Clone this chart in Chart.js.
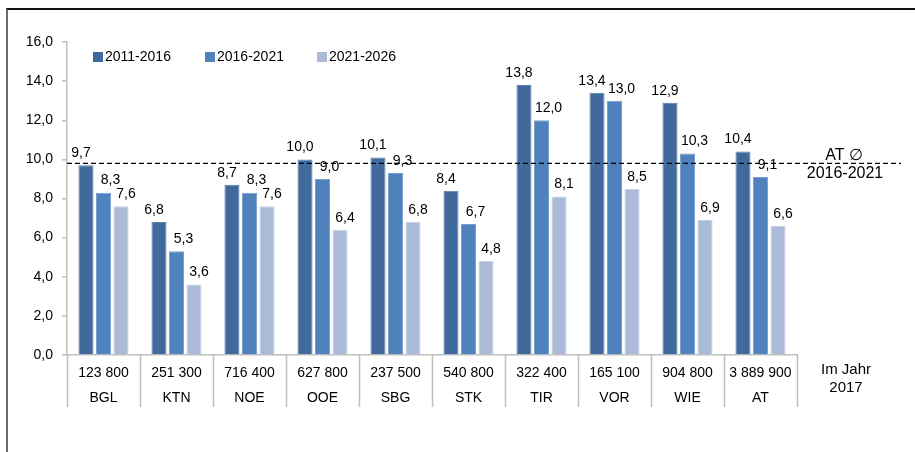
<!DOCTYPE html>
<html>
<head>
<meta charset="utf-8">
<script src="https://cdn.jsdelivr.net/npm/chart.js@4.4.0/dist/chart.umd.min.js"></script>
<style>
  body { margin: 0; background: #fff; }
  #wrap { position: relative; width: 915px; height: 452px; }
  #frame { position: absolute; left: 6px; top: 8px; width: 915px; height: 450px;
           border-top: 2px solid #111; border-left: 2px solid #6b6b6b; }
  canvas { position: absolute; left: 0; top: 0; }
</style>
</head>
<body>
<div id="wrap">
  <div id="frame"></div>
  <canvas id="chart" width="915" height="452"></canvas>
</div>
<script>
// Regionen und Bevölkerung 2017
const regions = ['BGL', 'KTN', 'NOE', 'OOE', 'SBG', 'STK', 'TIR', 'VOR', 'WIE', 'AT'];
const population = ['123 800', '251 300', '716 400', '627 800', '237 500', '540 800', '322 400', '165 100', '904 800', '3 889 900'];

const seriesNames = ['2011-2016', '2016-2021', '2021-2026'];
const values2011 = [9.7, 6.8, 8.7, 10.0, 10.1, 8.4, 13.8, 13.4, 12.9, 10.4];
const values2016 = [8.3, 5.3, 8.3, 9.0, 9.3, 6.7, 12.0, 13.0, 10.3, 9.1];
const values2021 = [7.6, 3.6, 7.6, 6.4, 6.8, 4.8, 8.1, 8.5, 6.9, 6.6];

const avgAT = 9.8;   // AT Durchschnitt 2016-2021
const avgLabel = ['AT \u2205', '2016-2021'];
const yearNote = ['Im Jahr', '2017'];

const colors = ['#3f6a9b', '#4f81bd', '#aabad7'];
const edges = ['#5a80ad', '#7a9fcc', '#c3d0e5'];
const fontFamily = '"Liberation Sans", Arial, sans-serif';
const fmt = v => v.toFixed(1).replace('.', ',');

// Zusatzzeichnungen: Legende, Werte, Trennlinien, Durchschnittslinie
const extras = {
    id: 'extras',
    afterDatasetsDraw(chart) {
        const ctx = chart.ctx;
        const x = chart.scales.x;
        const y = chart.scales.y;
        ctx.save();

        // Werte über den Balken
        const shift = [-5, 7, 5];
        ctx.font = '14px ' + fontFamily;
        ctx.fillStyle = '#000';
        ctx.textAlign = 'center';
        ctx.textBaseline = 'middle';
        chart.data.datasets.forEach((ds, di) => {
            chart.getDatasetMeta(di).data.forEach((bar, i) => {
                ctx.fillText(fmt(ds.data[i]), bar.x + shift[di], bar.y - 12);
            });
        });

        // Trennlinien unter der x-Achse
        ctx.strokeStyle = '#bfbfbf';
        ctx.lineWidth = 1.5;
        for (let i = 0; i <= regions.length; i++) {
            const px = Math.round(x.getPixelForValue(i - 0.5)) + 0.5;
            ctx.beginPath();
            ctx.moveTo(px, y.bottom);
            ctx.lineTo(px, y.bottom + 52);
            ctx.stroke();
        }

        // Durchschnittslinie
        const ly = y.getPixelForValue(avgAT);
        ctx.strokeStyle = '#000';
        ctx.lineWidth = 1.3;
        ctx.setLineDash([5, 3]);
        ctx.beginPath();
        ctx.moveTo(x.left, ly);
        ctx.lineTo(x.right + 104, ly);
        ctx.stroke();
        ctx.setLineDash([]);

        ctx.font = '16px ' + fontFamily;
        ctx.fillText(avgLabel[0], x.right + 47, ly - 8);
        ctx.fillText(avgLabel[1], x.right + 48, ly + 10);

        ctx.font = '15px ' + fontFamily;
        ctx.fillText(yearNote[0], x.right + 49, y.bottom + 15);
        ctx.fillText(yearNote[1], x.right + 49, y.bottom + 33);

        // Legende
        ctx.font = '14px ' + fontFamily;
        ctx.textAlign = 'left';
        seriesNames.forEach((name, i) => {
            const lx = x.left + 26 + i * 112;
            ctx.fillStyle = colors[i];
            ctx.fillRect(lx, 52, 10, 10);
            ctx.fillStyle = '#000';
            ctx.fillText(name, lx + 12, 57.5);
        });
        ctx.restore();
    }
};

new Chart(document.getElementById('chart'), {
    type: 'bar',
    data: {
        labels: regions.map((r, i) => [population[i], r]),
        datasets: [values2011, values2016, values2021].map((d, i) => ({
            label: seriesNames[i],
            data: d,
            backgroundColor: colors[i],
            borderColor: edges[i],
            borderWidth: 1,
            barPercentage: 0.86,
            categoryPercentage: 0.72
        }))
    },
    options: {
        responsive: false,
        animation: false,
        layout: { padding: { top: 42, right: 118, left: 0, bottom: 0 } },
        plugins: { legend: { display: false }, tooltip: { enabled: false } },
        scales: {
            x: {
                grid: { display: false },
                border: { display: true, color: '#bfbfbf', width: 1.5 },
                ticks: {
                    color: '#000',
                    padding: -2,
                    maxRotation: 0,
                    autoSkip: false,
                    font: { family: fontFamily, size: 14, lineHeight: 1.75 }
                },
                afterFit: s => { s.height = 97; }
            },
            y: {
                min: 0,
                max: 16,
                grid: { drawOnChartArea: false, tickLength: 5, color: '#bfbfbf', lineWidth: 1.5 },
                border: { display: true, color: '#bfbfbf', width: 1.5 },
                ticks: {
                    stepSize: 2,
                    color: '#000',
                    padding: 9,
                    font: { family: fontFamily, size: 14 },
                    callback: v => fmt(v)
                },
                afterFit: s => { s.width = 67; }
            }
        }
    },
    plugins: [extras]
});
</script>
</body>
</html>
